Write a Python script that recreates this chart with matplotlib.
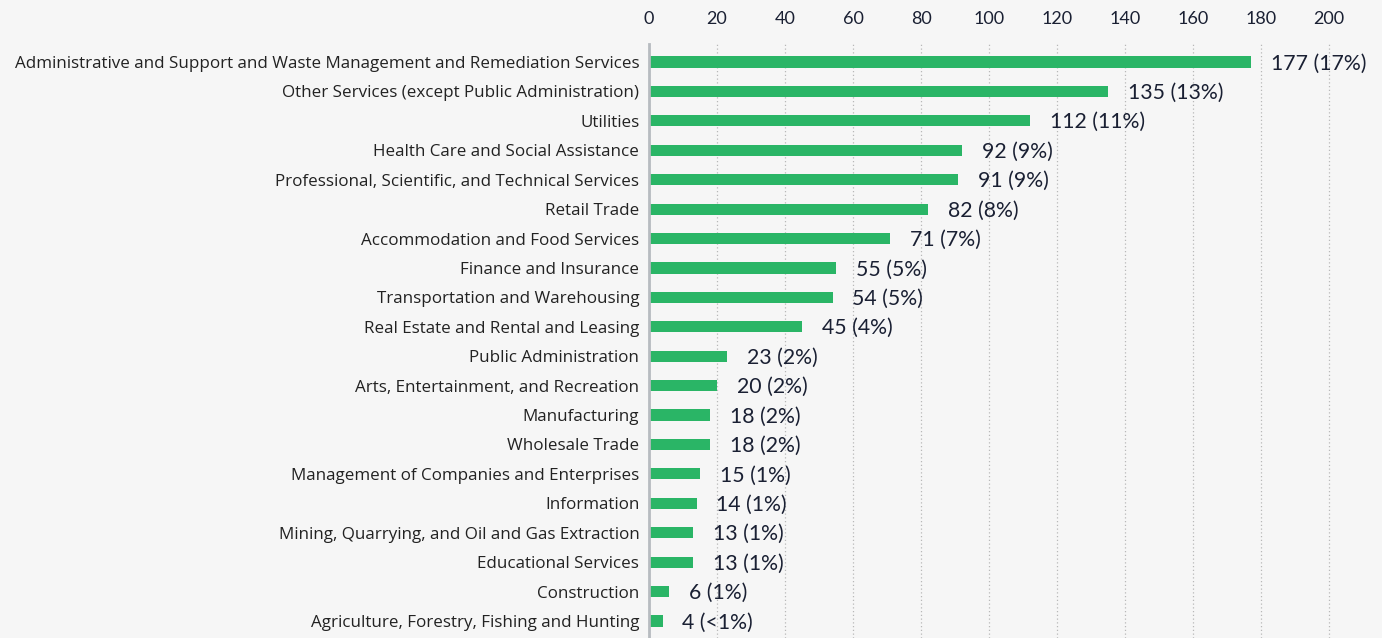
import matplotlib.pyplot as plt
import numpy as np

categories = [
    "Administrative and Support and Waste Management and Remediation Services",
    "Other Services (except Public Administration)",
    "Utilities",
    "Health Care and Social Assistance",
    "Professional, Scientific, and Technical Services",
    "Retail Trade",
    "Accommodation and Food Services",
    "Finance and Insurance",
    "Transportation and Warehousing",
    "Real Estate and Rental and Leasing",
    "Public Administration",
    "Arts, Entertainment, and Recreation",
    "Manufacturing",
    "Wholesale Trade",
    "Management of Companies and Enterprises",
    "Information",
    "Mining, Quarrying, and Oil and Gas Extraction",
    "Educational Services",
    "Construction",
    "Agriculture, Forestry, Fishing and Hunting",
]
counts = [177, 135, 112, 92, 91, 82, 71, 55, 54, 45, 23, 20, 18, 18, 15, 14, 13, 13, 6, 4]
shares = ["17%", "13%", "11%", "9%", "9%", "8%", "7%", "5%", "5%", "4%",
          "2%", "2%", "2%", "2%", "1%", "1%", "1%", "1%", "1%", "<1%"]

BG = "#f6f6f6"
GREEN = "#2ab566"
NAVY = "#1a2033"

plt.rcParams["font.family"] = ["Lato", "DejaVu Sans"]

fig = plt.figure(figsize=(13.82, 6.38), dpi=100, facecolor=BG)
ax = fig.add_axes([649 / 1382, 0, 1 - 649 / 1382, 1 - 44 / 638], facecolor=BG)

y = np.arange(len(categories))
ax.barh(y, counts, height=0.38, color=GREEN, zorder=3)

# value + share labels to the right of each bar
for yi, c, s in zip(y, counts, shares):
    ax.text(c + 5.8, yi + 0.05, f"{c} ({s})", va="center", ha="left",
            fontsize=15.3, color=NAVY, zorder=4)

ax.set_xlim(0, (1382 - 649) / 3.4)
ax.set_ylim(len(categories) - 1 + 17 / 29.4, -18 / 29.4)
ax.set_yticks(y)
ax.set_yticklabels(categories, fontsize=12.25, color="#222222", family=["Open Sans", "DejaVu Sans"])
ax.set_xticks(np.arange(0, 201, 20))
ax.xaxis.tick_top()
ax.tick_params(axis="x", length=0, pad=12, labelsize=13, labelcolor=NAVY)
ax.tick_params(axis="y", length=0, pad=7)

ax.grid(axis="x", linestyle=(0, (1, 2)), color="#b8b8b8", linewidth=0.9, zorder=0)
for side in ["top", "right", "bottom"]:
    ax.spines[side].set_visible(False)
ax.spines["left"].set_color("#b7bbc0")
ax.spines["left"].set_linewidth(2)
ax.spines["left"].set_zorder(5)

plt.savefig("out.png", dpi=100, facecolor=BG)
